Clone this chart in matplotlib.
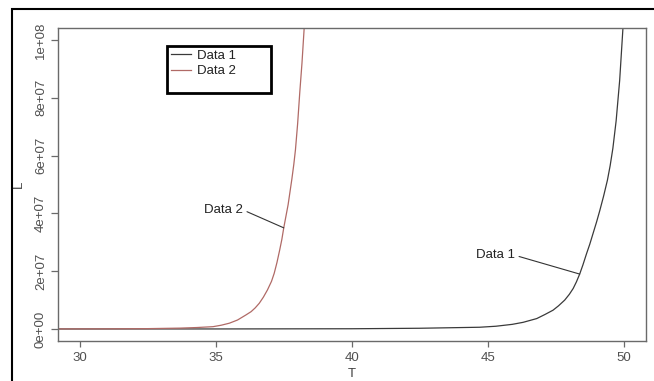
import matplotlib
matplotlib.use("Agg")
import matplotlib.pyplot as plt
from matplotlib.patches import Rectangle

plt.rcParams['font.family'] = ['Liberation Sans', 'DejaVu Sans']

# ---- data ----
T1 = [29.0, 35.0, 40.0, 42.5, 44.7, 45.3, 45.9, 46.3, 46.8, 47.1, 47.4, 47.6, 47.83,
      48.0, 48.14, 48.26, 48.38, 48.5, 48.63, 48.75, 48.87, 49.0, 49.12, 49.26,
      49.4, 49.5, 49.6, 49.72, 49.85, 49.97, 50.1]
L1 = [0.0, 0.01e6, 0.08e6, 0.25e6, 0.6e6, 0.95e6, 1.6e6, 2.3e6, 3.6e6, 5.0e6, 6.5e6, 8.0e6, 1.0e7,
      1.2e7, 1.4e7, 1.63e7, 1.9e7, 2.22e7, 2.6e7, 2.93e7, 3.3e7, 3.7e7, 4.1e7, 4.6e7,
      5.15e7, 5.65e7, 6.25e7, 7.2e7, 8.6e7, 1.04e8, 1.25e8]

T2 = [29.0, 31.0, 32.5, 33.7, 34.3, 34.9, 35.2, 35.5, 35.8, 36.1, 36.3, 36.45, 36.6,
      36.75, 36.9, 37.05, 37.15, 37.25, 37.35, 37.43, 37.5, 37.58, 37.66, 37.73,
      37.8, 37.87, 37.93, 38.01, 38.09, 38.17, 38.25, 38.4]
L2 = [0.02e6, 0.05e6, 0.12e6, 0.3e6, 0.5e6, 0.8e6, 1.3e6, 2.0e6, 3.1e6, 4.8e6, 6.0e6, 7.3e6, 8.9e6,
      1.1e7, 1.35e7, 1.65e7, 1.93e7, 2.3e7, 2.73e7, 3.1e7, 3.5e7, 3.9e7, 4.3e7, 4.75e7,
      5.2e7, 5.7e7, 6.2e7, 7.1e7, 8.2e7, 9.2e7, 1.04e8, 1.3e8]

series_names = ["Data 1", "Data 2"]
x_ticks = [30, 35, 40, 45, 50]
y_ticks = [0, 2e7, 4e7, 6e7, 8e7, 1e8]
y_tick_labels = ["0e+00", "2e+07", "4e+07", "6e+07", "8e+07", "1e+08"]
x_label = "T"
y_label = "L"

# ---- figure ----
W, H = 654, 381
fig = plt.figure(figsize=(W / 100, H / 100), dpi=100)

def fx(px):
    return px / W

def fy(py):
    return 1 - py / H

FS = 9.5

# outer frame (only left / top visible)
fig.patches.append(Rectangle((fx(12), fy(420)), fx(700) - fx(12), fy(9) - fy(420),
                             transform=fig.transFigure, fill=False, lw=1.5,
                             edgecolor='black', clip_on=False))

ax = fig.add_axes([fx(58), fy(341), fx(645.5) - fx(58), fy(28) - fy(341)])

c1 = '#3a3a3a'
c2 = '#b06a66'
ax.plot(T1, L1, color=c1, lw=0.9, label=series_names[0])
ax.plot(T2, L2, color=c2, lw=0.9, label=series_names[1])

ax.set_xlim(29.2, 50.8)
ax.set_ylim(-4.16e6, 1.0416e8)

for sp in ax.spines.values():
    sp.set_color('#6a6a6a')
    sp.set_linewidth(1.0)

ax.set_xticks(x_ticks)
ax.set_xticklabels([str(t) for t in x_ticks])
ax.set_yticks(y_ticks)
ax.set_yticklabels(y_tick_labels, rotation=90, va='center')
ax.tick_params(axis='both', direction='out', colors='#6a6a6a', labelcolor='#505050',
               labelsize=FS, width=0.9)
ax.tick_params(axis='x', length=4, pad=4)
ax.tick_params(axis='y', length=5, pad=3)

ax.set_xlabel(x_label, fontsize=FS, color='#404040', labelpad=3)
ax.set_ylabel(y_label, fontsize=FS, color='#404040', labelpad=7)

# annotations pointing at curves
i1 = T1.index(48.38)
i2 = T2.index(37.5)
ax.annotate(series_names[1], xy=(T2[i2], L2[i2]), xytext=(36.0, 4.12e7),
            ha='right', va='center', fontsize=FS, color='#222222',
            arrowprops=dict(arrowstyle='-', color='#333333', lw=0.8,
                            shrinkA=1, shrinkB=0, relpos=(1, 0.5)))
ax.annotate(series_names[0], xy=(T1[i1], L1[i1]), xytext=(46.0, 2.55e7),
            ha='right', va='center', fontsize=FS, color='#222222',
            arrowprops=dict(arrowstyle='-', color='#333333', lw=0.8,
                            shrinkA=1, shrinkB=0, relpos=(1, 0.5)))

# legend box
fig.patches.append(Rectangle((fx(167), fy(92.5)), fx(271) - fx(167), fy(46) - fy(92.5),
                             transform=fig.transFigure, fill=True, facecolor='white',
                             lw=2.0, edgecolor='black', zorder=5))
leg = fig.legend(loc='upper left', bbox_to_anchor=(fx(171), fy(49.5)),
                 frameon=False, fontsize=FS, handlelength=1.55, handletextpad=0.4,
                 borderpad=0, borderaxespad=0, labelspacing=0.25)
leg.set_zorder(6)
for t in leg.get_texts():
    t.set_color('#222222')

fig.savefig("out.png", dpi=100)
